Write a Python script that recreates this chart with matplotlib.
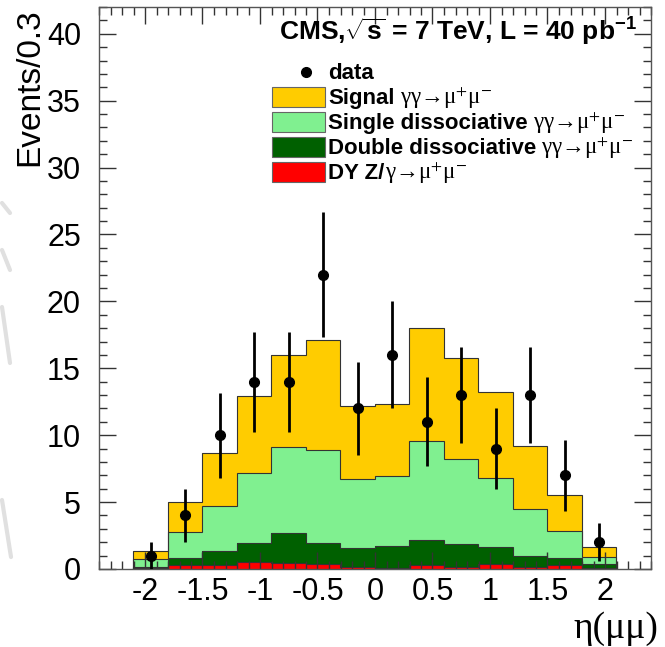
import numpy as np
import matplotlib
matplotlib.use("Agg")
import matplotlib.pyplot as plt
from matplotlib.lines import Line2D
from matplotlib.patches import Rectangle

plt.rcParams['font.family'] = ['Liberation Sans', 'DejaVu Sans']
plt.rcParams['mathtext.fontset'] = 'custom'
plt.rcParams['mathtext.rm'] = 'Liberation Sans:bold'
plt.rcParams['mathtext.bf'] = 'Liberation Sans:bold'
plt.rcParams['mathtext.it'] = 'Liberation Sans:bold'
plt.rcParams['mathtext.sf'] = 'Liberation Sans:bold'

# bin edges in eta(mumu), width 0.3
eta_edges = [-2.1, -1.8, -1.5, -1.2, -0.9, -0.6, -0.3, 0.0, 0.3, 0.6, 0.9, 1.2, 1.5, 1.8, 2.1]

# MC contributions per bin (stacked from bottom: DY, double, single, signal)
dy_mc = [0.05, 0.3, 0.3, 0.55, 0.45, 0.35, 0.15, 0.1, 0.3, 0.15, 0.4, 0.15, 0.3, 0.05]
double_diss = [0.10, 0.55, 1.07, 1.39, 2.25, 1.59, 1.45, 1.63, 1.89, 1.74, 1.22, 0.82, 0.55, 0.32]
single_diss = [0.57, 1.89, 3.33, 5.22, 6.40, 6.94, 5.10, 5.19, 7.34, 6.30, 5.17, 3.48, 1.96, 0.53]
signal_mc = [0.65, 2.26, 4.00, 5.74, 6.90, 8.22, 5.50, 5.38, 8.47, 7.61, 6.41, 4.75, 2.69, 0.76]

# observed events
data_counts = [1, 4, 10, 14, 14, 22, 12, 16, 11, 13, 9, 13, 7, 2]

x_ticks = [-2, -1.5, -1, -0.5, 0, 0.5, 1, 1.5, 2]
x_ticklabels = ['-2', '-1.5', '-1', '-0.5', '0', '0.5', '1', '1.5', '2']
y_ticks = [0, 5, 10, 15, 20, 25, 30, 35, 40]

W, H = 665, 647


def fx(px):
    return px / W


def fy(py):
    return 1 - py / H


fig = plt.figure(figsize=(W / 100, H / 100), dpi=100)
fig.patch.set_facecolor('white')

# faint watermark strokes at the left edge
for (x0, y0, x1, y1) in [(2, 203, 10, 213), (2, 250, 10, 270), (2, 307, 10, 363), (2, 500, 11, 557)]:
    fig.add_artist(Line2D([fx(x0), fx(x1)], [fy(y0), fy(y1)], color='#e0e0e0', lw=3,
                          solid_capstyle='round'))

ax = fig.add_axes([fx(99), fy(569), (651 - 99) / W, (569 - 7) / H])

edges = np.array(eta_edges)
layers = np.cumsum(np.array([dy_mc, double_diss, single_diss, signal_mc]), axis=0)
colors = ['#ff0000', '#006000', '#80f090', '#ffcc00']

# ROOT-like stack: draw totals from the top down
for top, col in zip(layers[::-1], colors[::-1]):
    ax.stairs(top, edges, baseline=0, fill=True, color=col, zorder=1)
    ax.stairs(top, edges, baseline=0, fill=False, color='#333333', lw=0.8, zorder=1.1)

centers = 0.5 * (edges[:-1] + edges[1:])
counts = np.array(data_counts, dtype=float)
ax.errorbar(centers, counts, yerr=np.sqrt(counts), fmt='o', color='black', ms=7,
            elinewidth=2, capsize=0, zorder=3)

ax.set_xlim(-2.4, 2.4)
ax.set_ylim(0, 42)
ax.set_xticks(x_ticks)
ax.set_xticklabels(x_ticklabels)
ax.set_yticks(y_ticks)
ax.set_xticks(np.arange(-2.4, 2.41, 0.1), minor=True)
ax.set_yticks(np.arange(0, 42.1, 1), minor=True)
ax.tick_params(which='both', direction='in', top=True, right=True, color='#333333', width=1)
ax.tick_params(which='major', length=12, labelsize=22, pad=6)
ax.tick_params(which='minor', length=6)
ax.tick_params(axis='y', which='major', pad=13)
for s in ax.spines.values():
    s.set_color('#555555')
    s.set_linewidth(1)

fig.text(fx(30), fy(8), 'Events/0.3', rotation=90, ha='center', va='top', fontsize=24)
fig.text(fx(658), fy(638), 'η(μμ)', ha='right', va='baseline', fontsize=27,
         family=['Liberation Serif', 'DejaVu Serif'])

# header
fig.text(fx(279), fy(41), r'CMS,$\sqrt{s}$ = 7 TeV, L = 40 pb$^{-1}$', ha='left', va='baseline',
         fontsize=19, weight='bold', math_fontfamily='custom')

# legend built by hand
renderer = fig.canvas.get_renderer()
sym_font = ['Liberation Serif', 'DejaVu Serif']
fig.add_artist(Line2D([fx(306)], [fy(72)], marker='o', color='black', ms=7))
fig.text(fx(328), fy(79), 'data', ha='left', va='baseline', fontsize=16, weight='bold')
entries = [('Signal', '#ffcc00', 'γγ→μ$^{+}$μ$^{-}$'),
           ('Single dissociative', '#80f090', 'γγ→μ$^{+}$μ$^{-}$'),
           ('Double dissociative', '#006000', 'γγ→μ$^{+}$μ$^{-}$'),
           ('DY Z/', '#ff0000', 'γ→μ$^{+}$μ$^{-}$')]
for i, (lab, col, sym) in enumerate(entries):
    yc = 97 + 25 * i
    fig.add_artist(Rectangle((fx(272), fy(yc + 10)), 53 / W, 20 / H, facecolor=col,
                             edgecolor='#666666', lw=0.8, transform=fig.transFigure))
    t = fig.text(fx(328), fy(yc + 7), lab, ha='left', va='baseline', fontsize=16, weight='bold')
    bb = t.get_window_extent(renderer)
    gap = 1 if lab.endswith('/') else 5
    fig.text(fx(bb.x1 + gap), fy(yc + 7), sym, ha='left', va='baseline', fontsize=16.5,
             family=sym_font, math_fontfamily='stix')

fig.savefig('out.png', dpi=100)
